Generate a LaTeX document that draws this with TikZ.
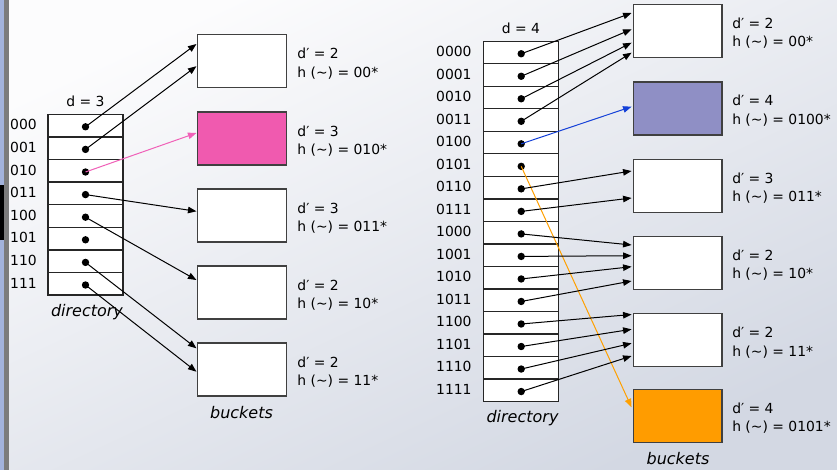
\documentclass[tikz,border=0pt]{standalone}
\usepackage{fontspec}
\setmainfont{DejaVu Sans}
\usetikzlibrary{arrows.meta,calc}
\definecolor{bgtop}{HTML}{FCFCFD}
\definecolor{bgbot}{HTML}{D3D8E3}
\definecolor{stripblue}{HTML}{A3B3DC}
\definecolor{stripgray}{HTML}{7C7C7C}
\definecolor{pinkfill}{HTML}{F05AAF}
\definecolor{pinkline}{HTML}{F060B8}
\definecolor{purplefill}{HTML}{8F8FC5}
\definecolor{blueline}{HTML}{1440D8}
\definecolor{orangefill}{HTML}{FF9C00}
\definecolor{orangeline}{HTML}{FFA000}
\begin{document}
\begin{tikzpicture}[x=1pt,y=-1pt,
  txt/.style={font=\fontsize{13.9}{16}\selectfont, inner sep=0pt, anchor=base west, text=black},
  lbl/.style={font=\fontsize{16}{19}\selectfont\itshape, inner sep=0pt, anchor=base, text=black},
  cell/.style={draw=black!85, line width=1.2pt, fill=white, minimum width=75pt, minimum height=22.55pt, inner sep=0pt, outer sep=0pt},
  bucket/.style={draw=black!75, line width=1.4pt, fill=white, minimum width=88.5pt, minimum height=53pt, inner sep=0pt, outer sep=0pt},
  ptr/.style={circle, fill=black, inner sep=0pt, minimum size=7.4pt},
  arr/.style={line width=1pt, -{Triangle[length=8.5pt,width=6.5pt]}}]
\useasboundingbox (0,0) rectangle (837,470);
% background
\shade[top color=bgtop, bottom color=bgbot, shading angle=25] (0,0) rectangle (837,470);
\fill[stripblue] (0,0) rectangle (4,470);
\fill[stripgray] (4,0) rectangle (8.5,470);
\fill[black] (0,185) rectangle (4,240);

% ---------------- left diagram ----------------
\foreach \t [count=\i] in {000,001,010,011,100,101,110,111} {
  \node[cell] (lc\i) at (85.5, {125.6+22.6*(\i-1)}) {};
  \node[ptr] (lp\i) at ($(lc\i.center)+(0,1.2)$) {};
  \node[txt] (ll\i) at (10, {130+22.6*(\i-1)}) {\t};
}
\node[txt, anchor=base] (ld) at (85.5,106.5) {d = 3};
\node[lbl] (ldir) at (87,316) {directory};

\node[bucket] (lb1) at (242,61.2) {};
\node[bucket, fill=pinkfill] (lb2) at (242,138.5) {};
\node[bucket] (lb3) at (242,215.5) {};
\node[bucket] (lb4) at (242,292.5) {};
\node[bucket] (lb5) at (242,369.5) {};
\node[lbl] (lbk) at (241.5,418) {buckets};

\foreach \b/\d/\h in {1/2/00*,2/3/010*,3/3/011*,4/2/10*,5/2/11*} {
  \node[txt] (lbd\b) at ($(lb\b.north east)+(11,24.3)$) {d′ = \d};
  \node[txt] (lbh\b) at ($(lb\b.north east)+(11,42.8)$) {h (\char"007E) = \h};
}

\draw[arr] (lp1.center) -- ($(lb1.north west)+(-1.3,9.3)$);
\draw[arr] (lp2.center) -- ($(lb1.north west)+(-1.3,31.5)$);
\draw[arr, pinkline] (lp3.center) -- ($(lb2.north west)+(-1.3,21)$);
\draw[arr] (lp4.center) -- ($(lb3.north west)+(-1.3,22.3)$);
\draw[arr] (lp5.center) -- ($(lb4.north west)+(-1.3,14)$);
\draw[arr] (lp7.center) -- ($(lb5.north west)+(-1.3,5.3)$);
\draw[arr] (lp8.center) -- ($(lb5.north west)+(-1.3,28.7)$);

% ---------------- right diagram ----------------
\foreach \t [count=\i] in {0000,0001,0010,0011,0100,0101,0110,0111,1000,1001,1010,1011,1100,1101,1110,1111} {
  \node[cell] (rc\i) at (521.2, {52.55+22.52*(\i-1)}) {};
  \node[ptr] (rp\i) at ($(rc\i.center)+(0,1.2)$) {};
  \node[txt] (rl\i) at (436, {56.5+22.52*(\i-1)}) {\t};
}
\node[txt, anchor=base] (rd) at (521,33.3) {d = 4};
\node[lbl] (rdir) at (522.5,422) {directory};

\node[bucket] (rb1) at (677.8,31.2) {};
\node[bucket, fill=purplefill] (rb2) at (677.8,108.5) {};
\node[bucket] (rb3) at (677.8,185.8) {};
\node[bucket] (rb4) at (677.8,262.8) {};
\node[bucket] (rb5) at (677.8,340.2) {};
\node[bucket, fill=orangefill] (rb6) at (677.8,415.8) {};
\node[lbl] (rbk) at (678,464) {buckets};

\foreach \b/\d/\h in {1/2/00*,2/4/0100*,3/3/011*,4/2/10*,5/2/11*,6/4/0101*} {
  \node[txt] (rbd\b) at ($(rb\b.north east)+(10,23.8)$) {d′ = \d};
  \node[txt] (rbh\b) at ($(rb\b.north east)+(10,42.3)$) {h (\char"007E) = \h};
}

\draw[arr] (rp1.center) -- ($(rb1.north west)+(-2,8.3)$);
\draw[arr] (rp2.center) -- ($(rb1.north west)+(-2,24.6)$);
\draw[arr] (rp3.center) -- ($(rb1.north west)+(-2,38)$);
\draw[arr] (rp4.center) -- ($(rb1.north west)+(-2,48)$);
\draw[arr, blueline] (rp5.center) -- ($(rb2.north west)+(-2,24.7)$);
\draw[arr, orangeline] (rp6.center) -- ($(rb6.north west)+(-2,18)$);
\draw[arr] (rp7.center) -- ($(rb3.north west)+(-2,11.7)$);
\draw[arr] (rp8.center) -- ($(rb3.north west)+(-2,38.7)$);
\draw[arr] (rp9.center) -- ($(rb4.north west)+(-2,8.7)$);
\draw[arr] (rp10.center) -- ($(rb4.north west)+(-2,19.4)$);
\draw[arr] (rp11.center) -- ($(rb4.north west)+(-2,30.4)$);
\draw[arr] (rp12.center) -- ($(rb4.north west)+(-2,44.7)$);
\draw[arr] (rp13.center) -- ($(rb5.north west)+(-2,0.8)$);
\draw[arr] (rp14.center) -- ($(rb5.north west)+(-2,15.6)$);
\draw[arr] (rp15.center) -- ($(rb5.north west)+(-2,29.6)$);
\draw[arr] (rp16.center) -- ($(rb5.north west)+(-2,42.3)$);
\end{tikzpicture}
\end{document}
